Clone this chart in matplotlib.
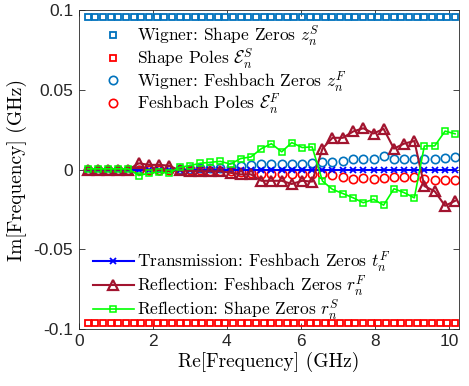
import matplotlib
matplotlib.use('Agg')
import matplotlib.pyplot as plt

plt.rcParams['mathtext.fontset'] = 'cm'
plt.rcParams['font.family'] = 'Liberation Sans'

# real parts (GHz)
shape_x = [0.24, 0.45, 0.65, 0.86, 1.07, 1.27, 1.48, 1.69, 1.89, 2.10,
           2.31, 2.51, 2.72, 2.93, 3.13, 3.34, 3.55, 3.75, 3.96, 4.17,
           4.37, 4.58, 4.79, 4.99, 5.20, 5.41, 5.61, 5.82, 6.03, 6.23,
           6.44, 6.65, 6.85, 7.06, 7.27, 7.47, 7.68, 7.89, 8.09, 8.30,
           8.51, 8.71, 8.92, 9.13, 9.33, 9.54, 9.75, 9.95, 10.16]
fesh_x = [0.24, 0.52, 0.79, 1.07, 1.34, 1.62, 1.89, 2.17, 2.44, 2.72,
          3.00, 3.27, 3.55, 3.82, 4.10, 4.37, 4.65, 4.93, 5.20, 5.48,
          5.75, 6.03, 6.30, 6.58, 6.85, 7.13, 7.41, 7.68, 7.96, 8.23,
          8.51, 8.78, 9.06, 9.33, 9.61, 9.89, 10.16]

# imaginary parts (GHz)
shape_zeros_im = [0.096] * len(shape_x)
shape_poles_im = [-0.096] * len(shape_x)
wig_fesh_im = [0, 0, 0, 0, 0, 0, 0, 0, 0, 0.0005,
               0.0005, 0.0008, 0.001, 0.0012, 0.0015, 0.0025, 0.003, 0.0035, 0.0035, 0.0035,
               0.0035, 0.0035, 0.004, 0.0046, 0.005, 0.0056, 0.0066, 0.007, 0.0064, 0.0087,
               0.0064, 0.0064, 0.0066, 0.007, 0.007, 0.0076, 0.008]
fesh_poles_im = [0, 0, 0, 0, 0, 0, 0, 0, 0, -0.0003,
                 -0.0005, -0.0005, -0.0006, -0.0007, -0.0008, -0.0015, -0.002, -0.0027, -0.0027, -0.0027,
                 -0.0027, -0.0027, -0.0027, -0.0027, -0.0033, -0.0047, -0.0058, -0.0054, -0.0058, -0.005,
                 -0.0047, -0.0047, -0.0047, -0.0058, -0.0062, -0.0062, -0.0068]
trans_fesh_im = [0] * len(fesh_x)
refl_fesh_im = [0, 0, 0, 0, 0, 0.004, 0.003, 0.003, 0.0025, -0.0005,
                -0.0008, -0.001, -0.001, -0.001, -0.002, -0.003, -0.003, -0.007, -0.007, -0.007,
                -0.009, -0.007, -0.0075, 0.0132, 0.020, 0.020, 0.024, 0.026, 0.0227, 0.0256,
                0.0132, 0.0163, 0.018, -0.0103, -0.0136, -0.0227, -0.0196]
refl_shape_im = [0.0005, 0.0005, 0.0005, 0.0005, 0.0005, -0.0037, -0.0022, -0.0016, -0.0022, 0.0015,
                 0.0025, 0.004, 0.0046, 0.0052, 0.0035, 0.007, 0.008, 0.0132, 0.0163, 0.0112,
                 0.017, 0.0139, 0.0143, -0.0072, -0.0124, -0.015, -0.0177, -0.0208, -0.0186, -0.0223,
                 -0.012, -0.0144, -0.0177, 0.0149, 0.0149, 0.0242, 0.0225]

fig = plt.figure(figsize=(4.69, 3.86), dpi=100)
ax = fig.add_axes([0.168, 0.148, 0.811, 0.825])

h1, = ax.plot(shape_x, shape_zeros_im, 's', ls='none', ms=4.3, mfc='none',
              mec='#0072BD', mew=1.3, label=r'Wigner: Shape Zeros $z_n^S$')
h2, = ax.plot(shape_x, shape_poles_im, 's', ls='none', ms=4.3, mfc='none',
              mec='#FF0000', mew=1.3, label=r'Shape Poles $\mathcal{E}_n^S$')
h3, = ax.plot(fesh_x, wig_fesh_im, 'o', ls='none', ms=6, mfc='none',
              mec='#0072BD', mew=1.2, label=r'Wigner: Feshbach Zeros $z_n^F$')
h4, = ax.plot(fesh_x, fesh_poles_im, 'o', ls='none', ms=6, mfc='none',
              mec='#FF0000', mew=1.2, label=r'Feshbach Poles $\mathcal{E}_n^F$')
h5, = ax.plot(fesh_x, trans_fesh_im, '-x', color='#0000FF', lw=1.5, ms=4, mew=1.3,
              label=r'Transmission: Feshbach Zeros $t_n^F$')
h6, = ax.plot(fesh_x, refl_fesh_im, '-^', color='#A2142F', lw=1.5, ms=6.5, mfc='none',
              mew=1.6, label=r'Reflection: Feshbach Zeros $r_n^F$')
h7, = ax.plot(fesh_x, refl_shape_im, '-s', color='#00FF00', lw=1.2, ms=4.5, mfc='none',
              mew=1.1, label=r'Reflection: Shape Zeros $r_n^S$')

ax.set_xlim(0, 10.27)
ax.set_ylim(-0.1, 0.1)
ax.set_xticks([0, 2, 4, 6, 8, 10])
ax.set_yticks([-0.1, -0.05, 0, 0.05, 0.1])
ax.set_yticklabels(['-0.1', '-0.05', '0', '0.05', '0.1'])
ax.tick_params(direction='in', top=True, right=True, labelsize=12.5,
               colors='#262626', length=4, width=0.6, pad=4)
for s in ax.spines.values():
    s.set_color('#262626')
    s.set_linewidth(0.6)

ax.set_xlabel('Re[Frequency] (GHz)', family='cmr10', fontsize=14, labelpad=2)
ax.set_ylabel('Im[Frequency] (GHz)', family='cmr10', fontsize=14, labelpad=5)

leg1 = ax.legend(handles=[h1, h2, h3, h4], loc='upper left', bbox_to_anchor=(0.049, 0.98),
                 frameon=False, prop={'family': 'cmr10', 'size': 12.5},
                 handlelength=1.0, handletextpad=0.88, labelspacing=-0.12, borderaxespad=0)
ax.add_artist(leg1)
ax.legend(handles=[h5, h6, h7], loc='lower left', bbox_to_anchor=(0.019, 0.0),
          frameon=False, prop={'family': 'cmr10', 'size': 12.5},
          handlelength=2.36, handletextpad=0.17, labelspacing=-0.05, borderaxespad=0)

fig.savefig('out.png', dpi=100)
